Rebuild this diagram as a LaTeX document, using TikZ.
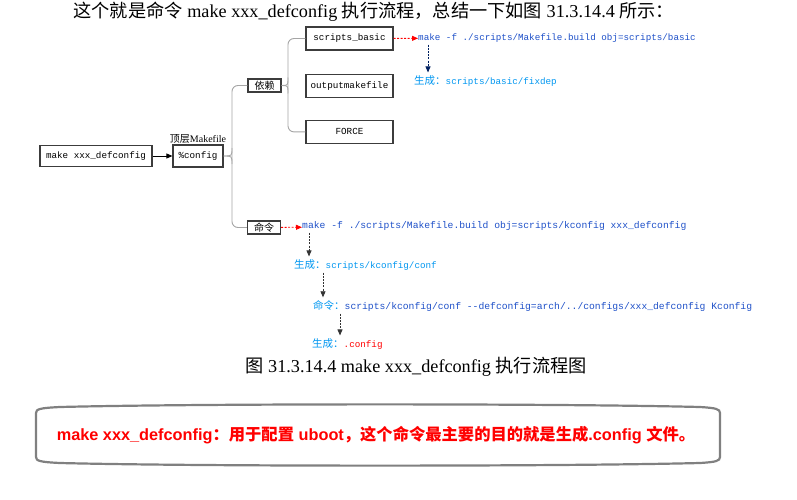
\documentclass[tikz,border=0pt]{standalone}
\usepackage{fontspec}
\setmainfont{Liberation Serif}
\setsansfont{Liberation Sans}
\setmonofont{Liberation Mono}
\newfontfamily\cjk{Noto Sans CJK SC}
\usetikzlibrary{arrows.meta,positioning,calc}
\definecolor{cmdBlue}{RGB}{30,80,200}
\definecolor{genBlue}{RGB}{0,150,240}
\definecolor{navyArr}{RGB}{0,32,96}
\definecolor{braceGray}{RGB}{165,165,165}
\definecolor{frameGray}{RGB}{128,128,128}
\definecolor{boxGray}{RGB}{60,60,60}
\newcommand\zh[1]{{\fontsize{10.5}{11}\cjk #1}}

\begin{document}
\begin{tikzpicture}[x=1pt,y=-1pt,
  box/.style={rectangle, draw=boxGray, line width=1.2pt,
              minimum width=87pt, minimum height=23pt, inner sep=2pt,
              font=\fontsize{9.25}{11}\ttfamily},
  tag/.style={rectangle, draw=boxGray, line width=1.2pt,
              minimum width=33pt, minimum height=13pt, inner sep=0pt,
              font=\fontsize{10}{12}\cjk},
  cmdtxt/.style={anchor=west, inner sep=0pt, text=cmdBlue,
                 font=\fontsize{9.25}{11}\ttfamily},
  gentxt/.style={cmdtxt, text=genBlue},
  brace/.style={draw=braceGray, line width=0.9pt, rounded corners=6pt},
  redarr/.style={-{Triangle[length=6pt,width=5pt]}, red,
                 dash pattern=on 2pt off 1.5pt, line width=0.8pt},
  downarr/.style={-{Triangle[length=6pt,width=5pt]}, black!80,
                  dash pattern=on 2pt off 1.2pt, line width=0.8pt}
]
  \useasboundingbox (0,0) rectangle (797,500);

  \node[anchor=west, font=\fontsize{18.2}{20}\selectfont] (intro) at (70,12)
    {{\cjk 这个就是命令} make xxx\_defconfig {\cjk 执行流程，总结一下如图}
     31.3.14.4 {\cjk 所示：}};

  % main boxes
  \node[box, minimum width=112pt, minimum height=21pt] (mk) at (96,156) {make xxx\_defconfig};
  \node[box, minimum width=50pt, minimum height=22pt] (pct) at (198,156) {\%config};
  \node[above=0pt of pct, inner sep=1pt, font=\fontsize{10}{12}\selectfont] (topmk)
    {{\cjk 顶层}Makefile};
  \draw[-{Triangle[length=6pt,width=5pt]}, line width=0.8pt] (mk) -- (pct);

  \node[tag] (dep) at (264.5,85.5) {依赖};
  \node[tag] (cmd) at (264,227.5) {命令};

  \node[box] (sb) at (349.5,38.5) {scripts\_basic};
  \node[box, below=23pt of sb] (om) {outputmakefile};
  \node[box, below=22pt of om] (fc) {FORCE};

  % brackets
  \coordinate (s1) at (232,156);
  \coordinate (s2) at (288,85.5);
  \draw[brace] (dep.west) -| (s1) |- (cmd.west);
  \draw[brace] (pct.east) .. controls (s1) .. ($(s1)+(0,-8)$);
  \draw[brace] (pct.east) .. controls (s1) .. ($(s1)+(0,8)$);
  \draw[brace] (sb.west) -| (s2) |- (fc.west);
  \draw[brace] (dep.east) .. controls (s2) .. ($(s2)+(0,-8)$);
  \draw[brace] (dep.east) .. controls (s2) .. ($(s2)+(0,8)$);

  % scripts_basic branch
  \node[cmdtxt] (mkb) at (418,38) {make -f ./scripts/Makefile.build obj=scripts/basic};
  \node[gentxt] (fix) at (414,81) {\zh{生成：}scripts/basic/fixdep};
  \draw[redarr] (sb) -- (mkb);
  \draw[downarr, navyArr] ($(mkb.south west)+(10,2)$) -- ($(fix.north west)+(14,-3)$);

  % kconfig branch
  \node[cmdtxt, font=\fontsize{9.7}{11}\ttfamily] (mkk) at (302,226)
    {make -f ./scripts/Makefile.build obj=scripts/kconfig xxx\_defconfig};
  \node[gentxt] (conf) at (294,265) {\zh{生成：}scripts/kconfig/conf};
  \node[cmdtxt, font=\fontsize{9.7}{11}\ttfamily] (cc) at (313,306)
    {\textcolor{genBlue}{\zh{命令：}}scripts/kconfig/conf -{}-defconfig=arch/../configs/xxx\_defconfig Kconfig};
  \node[gentxt] (dotc) at (312,344) {\zh{生成：}\textcolor{red}{.config}};
  \draw[redarr] (cmd) -- (mkk);
  \draw[downarr] ($(mkk.south west)+(7,2)$) -- ($(conf.north west)+(15,-3)$);
  \draw[downarr] ($(conf.south west)+(29,2)$) -- ($(cc.north west)+(10,-3)$);
  \draw[downarr] ($(cc.south west)+(27,2)$) -- ($(dotc.north west)+(28,-3)$);

  \node[font=\fontsize{18.2}{20}\selectfont] (cap) at (416,367)
    {{\cjk 图} 31.3.14.4 make xxx\_defconfig {\cjk 执行流程图}};

  % summary frame
  \draw[frameGray, line width=2.2pt] (36,413) -- (36,457)
    .. controls (36,461) and (40,462) .. (60,463)
    .. controls (200,466.5) and (560,466.5) .. (700,463)
    .. controls (716,462) and (720,461) .. (720,457) -- (720,413)
    .. controls (720,409) and (716,408) .. (700,407)
    .. controls (560,403.5) and (200,403.5) .. (60,407)
    .. controls (40,408) and (36,409) .. cycle;
  \node[text=red, font=\fontsize{16.3}{20}\sffamily\bfseries] (note) at (376,435)
    {make xxx\_defconfig{\cjk ：用于配置} uboot{\cjk ，这个命令最主要的目的就是生成}.config {\cjk 文件。}};
\end{tikzpicture}
\end{document}
